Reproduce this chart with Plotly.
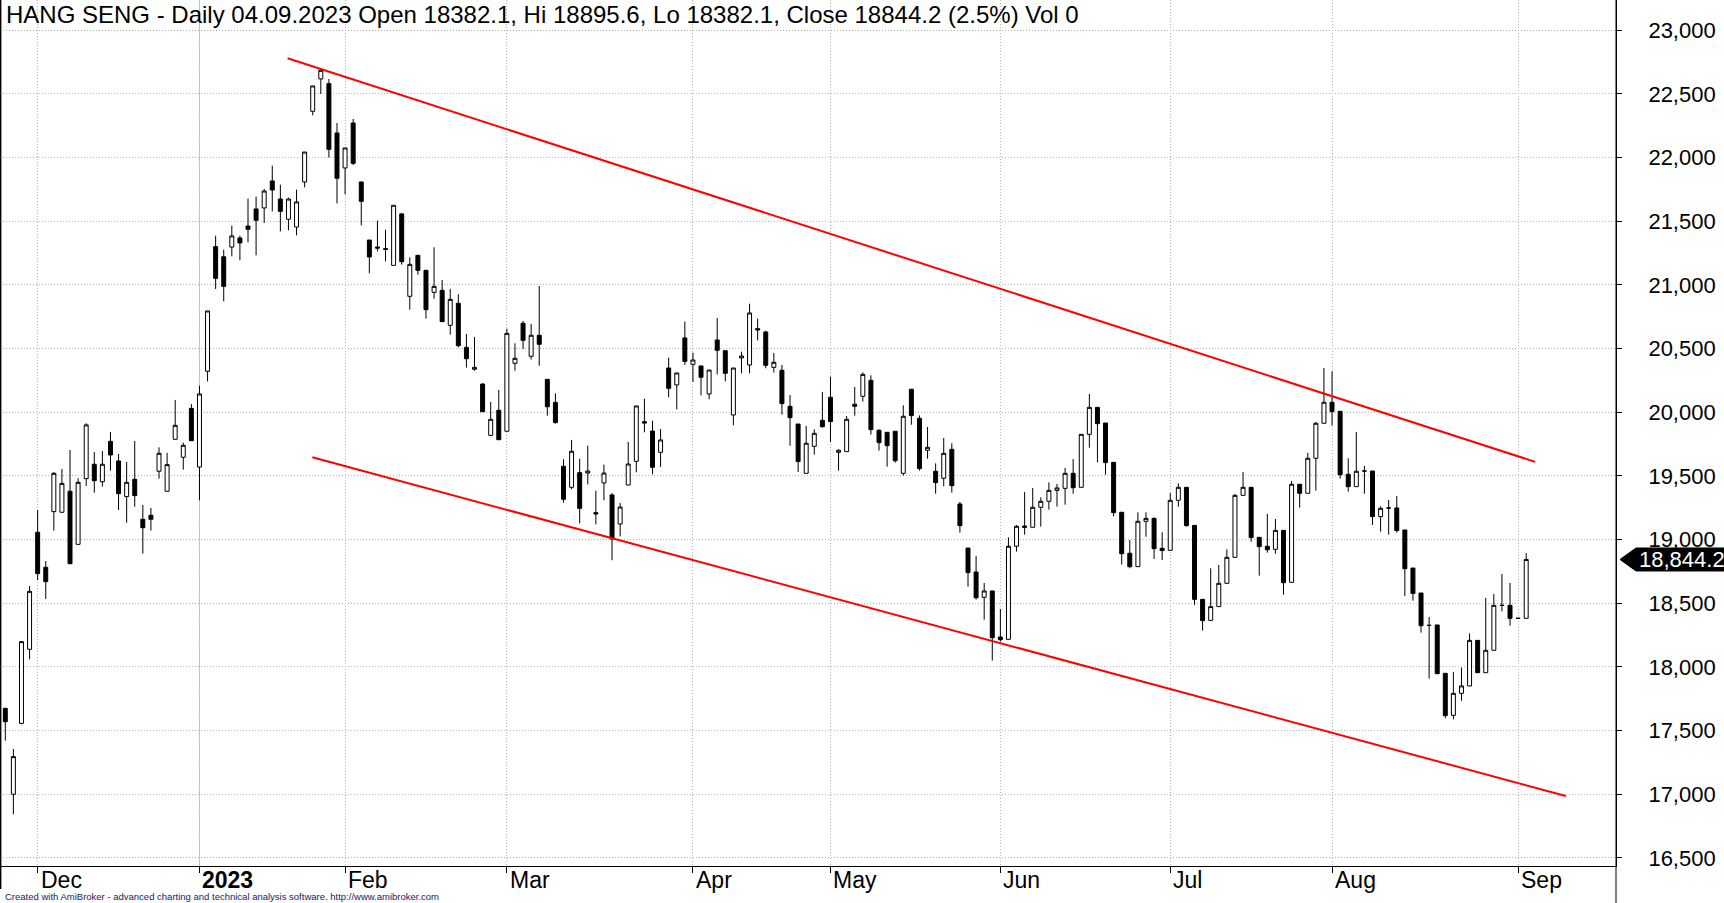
import plotly.graph_objects as go

# ---- data (bar index 0 = 25 Nov 2022 ... 188 = 4 Sep 2023) ----
opens = [17675, 17000, 17557, 18139, 19058, 18783, 19220, 19215, 19380, 18963,
         19479, 19592, 19455, 19772, 19618, 19338, 19474, 19160, 19191, 19537,
         19380, 19788, 19647, 20031, 19570, 20322, 21301, 21222, 21298, 21369,
         21463, 21597, 21605, 21817, 21675, 21516, 21455, 21809, 22364, 22618,
         22581, 22194, 21919, 22272, 21809, 21353, 21298, 21285, 21154, 21558,
         20911, 21233, 21115, 20942, 20958, 20683, 20856, 20510, 20338, 20222,
         19819, 20016, 19851, 20385, 20699, 20440, 20605, 20259, 20078, 19576,
         19411, 19526, 19523, 19212, 19445, 19351, 19123, 19429, 19615, 19926,
         19853, 19686, 20348, 20215, 20584, 20377, 20364, 20144, 20568, 20484,
         19979, 20427, 20372, 20657, 20631, 20353, 20330, 20047, 19908, 19521,
         19733, 19937, 20118, 19686, 19691, 20063, 20126, 20251, 19859, 19843,
         19851, 19521, 20181, 19953, 19702, 19537, 19482, 19709, 19280, 18934,
         18746, 18547, 18597, 18235, 18217, 18948, 19107, 19097, 19254, 19301,
         19387, 19403, 19521, 19411, 19827, 20039, 19916, 19607, 19215, 18893,
         18788, 19144, 19167, 18932, 18916, 19309, 19411, 19112, 18531, 18366,
         18474, 18657, 18861, 19348, 19411, 19018, 18948, 18924, 19073, 18665,
         19435, 19364, 19639, 19914, 20079, 20008, 19513, 19416, 19539, 19539,
         19181, 19249, 19249, 19076, 18777, 18581, 18327, 18330, 17950, 17620,
         17793, 17851, 18209, 17955, 18131, 18484, 18484, 18382.1, 18382.1]
highs = [17680, 17356, 18200, 18636, 19233, 18832, 19531, 19555, 19704, 19482,
         19914, 19688, 19696, 19846, 19673, 19610, 19775, 19272, 19249, 19725,
         19681, 20097, 19762, 20065, 20209, 20796, 21387, 21277, 21466, 21387,
         21678, 21694, 21754, 21937, 21788, 21686, 21749, 22044, 22563, 22700,
         22618, 22272, 22076, 22304, 21809, 21353, 21505, 21434, 21626, 21565,
         21217, 21233, 21115, 21296, 21039, 20969, 20927, 20615, 20592, 20228,
         20081, 20175, 20657, 20542, 20717, 20694, 20992, 20259, 20149, 19631,
         19783, 19636, 19738, 19385, 19589, 19366, 19288, 19767, 20050, 20107,
         19934, 19869, 20429, 20309, 20712, 20469, 20364, 20332, 20741, 20484,
         20348, 20476, 20853, 20736, 20640, 20466, 20372, 20136, 19908, 19893,
         19866, 20160, 20280, 19709, 19971, 20199, 20314, 20291, 19866, 19843,
         19851, 20055, 20181, 19976, 19885, 19599, 19798, 19757, 19296, 18934,
         18872, 18660, 18597, 18455, 19018, 19115, 19374, 19406, 19332, 19450,
         19437, 19563, 19633, 19827, 20144, 20039, 19916, 19607, 19215, 18997,
         19215, 19215, 19175, 19058, 19366, 19442, 19411, 19112, 18531, 18775,
         18801, 18924, 19359, 19531, 19411, 19018, 19202, 19162, 19073, 19461,
         19435, 19681, 19924, 20348, 20322, 20008, 19639, 19846, 19579, 19539,
         19262, 19311, 19343, 19076, 18777, 18581, 18393, 18330, 17950, 17961,
         17995, 18264, 18209, 18542, 18573, 18730, 18660, 18382.1, 18895.6]
lows = [17421, 16843, 17550, 18060, 18683, 18534, 19071, 19215, 18811, 18963,
        19421, 19369, 19416, 19542, 19233, 19133, 19259, 18890, 19071, 19479,
        19380, 19788, 19550, 19777, 19309, 20243, 20968, 20872, 21225, 21194,
        21335, 21233, 21487, 21578, 21421, 21429, 21390, 21767, 22332, 22500,
        22000, 21641, 21712, 21942, 21468, 21092, 21264, 21186, 21154, 21160,
        20806, 21081, 20736, 20893, 20712, 20610, 20510, 20351, 20327, 20005,
        19819, 19785, 19851, 20327, 20497, 20414, 20366, 19974, 19911, 19290,
        19395, 19128, 19434, 19120, 19309, 18838, 19026, 19429, 19529, 19843,
        19513, 19571, 20118, 20023, 20372, 20238, 20133, 20102, 20298, 20243,
        19898, 20306, 20306, 20565, 20346, 20312, 19982, 19738, 19531, 19521,
        19668, 19880, 19767, 19542, 19691, 19974, 20084, 19825, 19699, 19573,
        19605, 19503, 19903, 19542, 19636, 19361, 19419, 19369, 19055, 18631,
        18529, 18372, 18050, 18199, 18217, 18906, 19039, 19097, 19102, 19236,
        19259, 19275, 19361, 19411, 19722, 19607, 19510, 19183, 18804, 18775,
        18788, 19023, 18848, 18840, 18916, 19259, 19102, 18487, 18285, 18366,
        18474, 18657, 18861, 19348, 18984, 18717, 18898, 18890, 18568, 18665,
        19251, 19364, 19385, 19914, 19895, 19479, 19377, 19416, 19361, 19115,
        19063, 19039, 19055, 18557, 18521, 18270, 17908, 17947, 17597, 17589,
        17735, 17851, 17955, 17955, 18131, 18437, 18324, 18382.1, 18382.1]
closes = [17570, 17296, 18199, 18594, 18733, 18670, 19521, 19442, 18811, 19450,
          19901, 19463, 19592, 19665, 19361, 19450, 19346, 19094, 19160, 19678,
          19589, 19898, 19741, 19777, 20144, 20796, 21052, 20989, 21385, 21330,
          21437, 21508, 21738, 21746, 21578, 21675, 21652, 22044, 22563, 22686,
          22065, 21838, 22076, 21955, 21657, 21220, 21290, 21280, 21626, 21183,
          21162, 21115, 20806, 20989, 20712, 20887, 20523, 20421, 20353, 20005,
          19945, 19785, 20620, 20424, 20565, 20605, 20534, 20044, 19919, 19317,
          19694, 19246, 19539, 19202, 19523, 19005, 19256, 19594, 20050, 19916,
          19568, 19783, 20188, 20309, 20400, 20411, 20275, 20332, 20487, 20306,
          20348, 20442, 20780, 20647, 20369, 20393, 20068, 19958, 19613, 19757,
          19835, 19887, 19927, 19702, 19945, 20047, 20298, 19864, 19762, 19738,
          19620, 19969, 19974, 19558, 19725, 19448, 19678, 19424, 19110, 18741,
          18544, 18597, 18230, 18214, 18948, 19105, 19097, 19254, 19301, 19387,
          19406, 19521, 19408, 19827, 20039, 19911, 19605, 19212, 18890, 18788,
          19144, 19167, 18929, 18914, 19309, 19411, 19110, 18531, 18364, 18474,
          18657, 18861, 19348, 19411, 19016, 18945, 18921, 19073, 18662, 19435,
          19364, 19639, 19914, 20079, 20005, 19510, 19416, 19537, 19539, 19181,
          19246, 19249, 19071, 18772, 18578, 18324, 18327, 17947, 17618, 17793,
          17851, 18209, 17955, 18131, 18484, 18484, 18382, 18382.1, 18844.2]

month_bars = [4, 24, 42, 62, 85, 102, 123, 144, 164, 187]
month_labels = ["Dec", "2023", "Feb", "Mar", "Apr", "May", "Jun", "Jul", "Aug", "Sep"]
price_ticks = [16500, 17000, 17500, 18000, 18500, 19000, 19500, 20000,
               20500, 21000, 21500, 22000, 22500, 23000]

upper_x = [34.9, 189.1]
upper_y = [22780, 19611]
lower_x = [37.95, 192.9]
lower_y = [19647, 16987]

title_text = ("HANG SENG - Daily 04.09.2023 Open 18382.1, Hi 18895.6, "
              "Lo 18382.1, Close 18844.2 (2.5%) Vol 0")
footer_text = ("Created with AmiBroker - advanced charting and technical "
               "analysis software. http://www.amibroker.com")

FONT = "Liberation Sans, Arial, sans-serif"
W, H = 1724, 903
PL, PR, PT, PB = 0, 108, 0, 37
plot_w = W - PL - PR
plot_h = H - PT - PB

bars = list(range(len(closes)))

fig = go.Figure()
fig.add_trace(go.Candlestick(
    x=bars, open=opens, high=highs, low=lows, close=closes,
    increasing=dict(line=dict(color="black", width=1), fillcolor="white"),
    decreasing=dict(line=dict(color="black", width=1), fillcolor="black"),
    whiskerwidth=0, showlegend=False, hoverinfo="skip"))

for xs, ys in ((upper_x, upper_y), (lower_x, lower_y)):
    fig.add_trace(go.Scatter(x=xs, y=ys, mode="lines",
                             line=dict(color="#ff0000", width=2),
                             showlegend=False, hoverinfo="skip"))

grid = "#b4b4b4"
gdash = "1px,2px"
fig.update_layout(
    width=W, height=H,
    margin=dict(l=PL, r=PR, t=PT, b=PB, pad=0),
    paper_bgcolor="white", plot_bgcolor="white",
    font=dict(family=FONT, color="black"),
    showlegend=False,
    xaxis=dict(range=[-0.655, 199.1], tickvals=month_bars, showticklabels=False,
               showgrid=True, gridcolor=grid, griddash=gdash, gridwidth=1,
               ticks="outside", ticklen=6, tickcolor="black", tickwidth=1,
               showline=True, linecolor="black", linewidth=1,
               zeroline=False, rangeslider=dict(visible=False), fixedrange=True),
    yaxis=dict(range=[16437, 23238], side="right", tickvals=price_ticks,
               tickformat=",d", tickfont=dict(size=22, family=FONT, color="black"),
               showgrid=True, gridcolor=grid, griddash=gdash, gridwidth=1,
               ticks="outside", ticklen=5, tickcolor="black", tickwidth=1,
               ticklabelstandoff=22,
               showline=True, linecolor="black", linewidth=1, zeroline=False),
)

shapes = []
# solid year separator
shapes.append(dict(type="line", xref="x", yref="paper", x0=month_bars[1], x1=month_bars[1],
                   y0=0, y1=1, line=dict(color="#c8c8c8", width=1), layer="below"))
# left frame and full-height right axis
ext = -(PB - 14) / plot_h
shapes.append(dict(type="line", xref="paper", yref="paper", x0=0.0004, x1=0.0004,
                   y0=ext, y1=1, line=dict(color="black", width=1.5)))
shapes.append(dict(type="line", xref="paper", yref="paper", x0=1, x1=1,
                   y0=-PB / plot_h, y1=1, line=dict(color="black", width=1)))
# last price marker
last = closes[-1]
half = 11.5 * (23238 - 16437) / plot_h
tip = 1 + 4 / plot_w
notch = 1 + 20 / plot_w
rx = (W - PL) / plot_w + 0.01
path = (f"M {tip},{last} L {notch},{last + half} L {rx},{last + half} "
        f"L {rx},{last - half} L {notch},{last - half} Z")
shapes.append(dict(type="path", xref="paper", yref="y", path=path,
                   fillcolor="black", line=dict(color="black", width=1)))
fig.update_layout(shapes=shapes)

ann = []
for b, lab in zip(month_bars, month_labels):
    txt = f"<b>{lab}</b>" if lab == "2023" else lab
    ann.append(dict(x=b, xref="x", y=0, yref="paper", text=txt, showarrow=False,
                    xanchor="left", yanchor="top", xshift=1, yshift=1,
                    font=dict(size=23, family=FONT, color="black")))
ann.append(dict(x=4 / plot_w, xref="paper", y=1, yref="paper", text=title_text,
                showarrow=False, xanchor="left", yanchor="top", yshift=1,
                font=dict(size=24, family=FONT, color="black")))
ann.append(dict(x=3 / plot_w, xref="paper", y=-(896 - plot_h) / plot_h, yref="paper",
                text=footer_text, showarrow=False, xanchor="left", yanchor="middle",
                font=dict(size=9.5, family=FONT, color="#1a1a66")))
ann.append(dict(x=1 + 21 / plot_w, xref="paper", y=last, yref="y",
                text=f"{last:,.1f}", showarrow=False, xanchor="left", yanchor="middle",
                font=dict(size=22, family=FONT, color="white")))
fig.update_layout(annotations=ann)

fig.write_html("out.html", config={"displayModeBar": False})
